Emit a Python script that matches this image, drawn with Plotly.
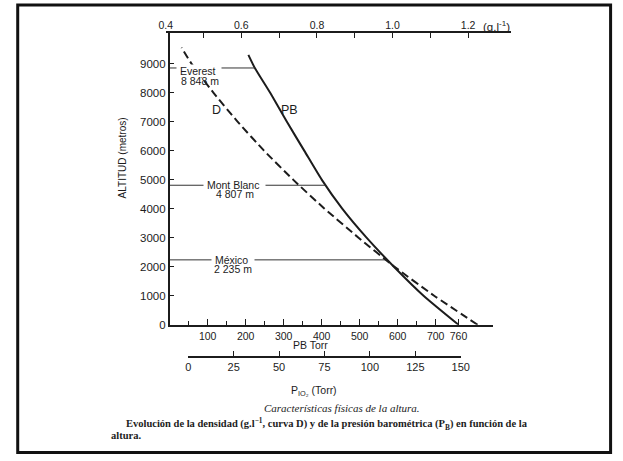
import numpy as np
import plotly.graph_objects as go

W, H = 623, 461

# ---- data ----
alt_pb = [0, 1000, 2000, 3000, 4000, 5000, 6000, 7000, 8000, 8848, 9300]
pb_torr = [760, 668, 590, 518, 454, 400, 354, 308, 264, 224, 207]

alt_d = [0, 1000, 2000, 3000, 4000, 5000, 6000, 7000, 8000, 9000, 9550]
density = [1.225, 1.110, 1.005, 0.910, 0.820, 0.737, 0.660, 0.590, 0.526, 0.468, 0.442]

places = ["Everest", "Mont Blanc", "México"]
place_alt = [8848, 4807, 2235]
place_alt_text = ["8 848 m", "4 807 m", "2 235 m"]

y_ticks = [0, 1000, 2000, 3000, 4000, 5000, 6000, 7000, 8000, 9000]
pb_ticks = [100, 200, 300, 400, 500, 600, 700, 760]
pb_minor = [50, 150, 250, 350, 450, 550, 650]
d_ticks = [0.4, 0.6, 0.8, 1.0, 1.2]
d_ticktext = ["0.4", "0.6", "0.8", "1.0", "1.2"]
d_minor = [0.5, 0.7, 0.9, 1.1]
pio2_ticks = [0, 25, 50, 75, 100, 125, 150]


def px(x):
    return x / W


def py(y):
    return 1 - y / H


INK = "#1c1c1c"
SANS = "Liberation Sans, Arial, sans-serif"
SERIF = "Liberation Serif, Times New Roman, serif"

fig = go.Figure()

# barometric pressure curve (solid)
fig.add_trace(go.Scatter(x=pb_torr, y=alt_pb, mode="lines",
                         line=dict(color=INK, width=2, shape="spline", smoothing=0.6),
                         xaxis="x", yaxis="y", hoverinfo="skip"))
# density curve (dashed)
fig.add_trace(go.Scatter(x=density, y=alt_d, mode="lines",
                         line=dict(color=INK, width=2, dash="8px,4px", shape="spline", smoothing=0.6),
                         xaxis="x2", yaxis="y", hoverinfo="skip"))
# reference lines for places
for a in place_alt:
    fig.add_trace(go.Scatter(x=[0, float(np.interp(a, alt_pb, pb_torr))], y=[a, a], mode="lines",
                             line=dict(color="#333", width=1), xaxis="x", yaxis="y", hoverinfo="skip"))
# invisible trace to show the PIO2 axis
fig.add_trace(go.Scatter(x=[pio2_ticks[0], pio2_ticks[-1]], y=[0, 0], mode="lines",
                         line=dict(width=0), opacity=0, xaxis="x3", yaxis="y", hoverinfo="skip"))

tickfont = dict(family=SANS, size=10.5, color=INK)

fig.update_layout(
    width=W, height=H,
    margin=dict(l=0, r=0, t=0, b=0),
    paper_bgcolor="white", plot_bgcolor="rgba(0,0,0,0)",
    showlegend=False, hovermode=False,
    xaxis=dict(domain=[px(167), px(498.5)], range=[0, 850], anchor="y",
               showgrid=False, zeroline=False, showline=True, linecolor=INK, linewidth=1.5,
               tickmode="array", tickvals=pb_ticks, ticks="inside", ticklen=6, tickwidth=1.2,
               tickcolor=INK, tickfont=tickfont, ticklabelstandoff=1,
               minor=dict(tickmode="array", tickvals=pb_minor, ticks="inside", ticklen=4,
                          tickwidth=1.2, tickcolor=INK, showgrid=False)),
    xaxis2=dict(domain=[px(162.9), px(517)], range=[0.4, 1.3126], anchor="y", side="top",
                showgrid=False, zeroline=False, showline=True, linecolor=INK, linewidth=1.5,
                tickmode="array", tickvals=d_ticks, ticktext=d_ticktext, ticks="inside",
                ticklen=5, tickwidth=1.2, tickcolor=INK, tickfont=tickfont, ticklabelstandoff=-2,
                minor=dict(tickmode="array", tickvals=d_minor, ticks="inside", ticklen=5,
                           tickwidth=1.2, tickcolor=INK, showgrid=False)),
    xaxis3=dict(domain=[px(186), px(465.7)], range=[0, 150], anchor="free", position=py(361.7),
                showgrid=False, zeroline=False, showline=True, linecolor=INK, linewidth=1.5,
                tickmode="array", tickvals=pio2_ticks, ticks="inside", ticklen=5, tickwidth=1.2,
                tickcolor=INK, tickfont=dict(family=SANS, size=11, color=INK)),
    yaxis=dict(domain=[py(329), py(33.3)], range=[0, 10058], anchor="x",
               showgrid=False, zeroline=False, showline=True, linecolor=INK, linewidth=1.5,
               tickmode="array", tickvals=y_ticks, ticks="inside", ticklen=5, tickwidth=1.2,
               tickcolor=INK, tickfont=dict(family=SANS, size=11.5, color=INK)),
)

ann = []
# place labels
name_pos = [(197, 71.7), (234, 187.3), (232, 263.3)]
alt_pos = [(198, 81.9), (234, 197), (232, 272.6)]
for name, atext, (nx, ny), (ax_, ay_) in zip(places, place_alt_text, name_pos, alt_pos):
    ann.append(dict(x=px(nx), y=py(ny), xref="paper", yref="paper",
                    text="&nbsp;" + name + "&nbsp;&nbsp;", showarrow=False,
                    font=dict(family=SANS, size=10.5, color=INK), bgcolor="white", borderpad=0,
                    xanchor="center", yanchor="middle"))
    ann.append(dict(x=px(ax_), y=py(ay_), xref="paper", yref="paper", text=atext, showarrow=False,
                    font=dict(family=SANS, size=10.5, color=INK),
                    xanchor="center", yanchor="middle"))

# curve labels
ann.append(dict(x=px(215), y=py(111.7), xref="paper", yref="paper", text="D", showarrow=False,
                font=dict(family=SANS, size=12.5, color=INK), xanchor="center", yanchor="middle"))
ann.append(dict(x=px(290), y=py(111.7), xref="paper", yref="paper", text="PB", showarrow=False,
                font=dict(family=SANS, size=12.5, color=INK), xanchor="center", yanchor="middle"))
# axis titles
ann.append(dict(x=px(118), y=py(159.5), xref="paper", yref="paper", text="ALTITUD (metros)",
                showarrow=False, textangle=-90, font=dict(family=SANS, size=10, color=INK),
                xanchor="center", yanchor="middle"))
ann.append(dict(x=px(312), y=py(350), xref="paper", yref="paper", text="PB Torr", showarrow=False,
                font=dict(family=SANS, size=10.5, color=INK), xanchor="center", yanchor="middle"))
ann.append(dict(x=px(315), y=py(396), xref="paper", yref="paper", text="P<sub>IO₂</sub> (Torr)",
                showarrow=False, font=dict(family=SANS, size=10.5, color=INK),
                xanchor="center", yanchor="middle"))
ann.append(dict(x=px(502), y=py(26), xref="paper", yref="paper", text="(g.l<sup>-1</sup>)",
                showarrow=False, font=dict(family=SANS, size=11.5, color=INK),
                xanchor="center", yanchor="middle"))
# caption
ann.append(dict(x=px(344), y=py(413), xref="paper", yref="paper",
                text="<i>Características físicas de la altura.</i>", showarrow=False,
                font=dict(family=SERIF, size=11, color=INK), xanchor="center", yanchor="middle"))
ann.append(dict(x=px(120), y=py(430), xref="paper", yref="paper",
                text="<b>Evolución de la densidad (g.l<sup>−1</sup>, curva D) y de la presión barométrica "
                     "(P<sub>B</sub>) en función de la</b>",
                showarrow=False, font=dict(family=SERIF, size=10.5, color=INK),
                xanchor="left", yanchor="middle"))
ann.append(dict(x=px(105), y=py(441), xref="paper", yref="paper", text="<b>altura.</b>",
                showarrow=False, font=dict(family=SERIF, size=10.5, color=INK),
                xanchor="left", yanchor="middle"))
fig.update_layout(annotations=ann)

# outer frame
fig.add_shape(type="rect", xref="paper", yref="paper", x0=px(11), x1=px(619.5), y0=py(458.5), y1=py(5),
              line=dict(color="#111", width=3))

fig.write_html("out.html", config={"displayModeBar": False},
               post_script="document.body.style.margin='0';document.body.style.overflow='hidden';")
